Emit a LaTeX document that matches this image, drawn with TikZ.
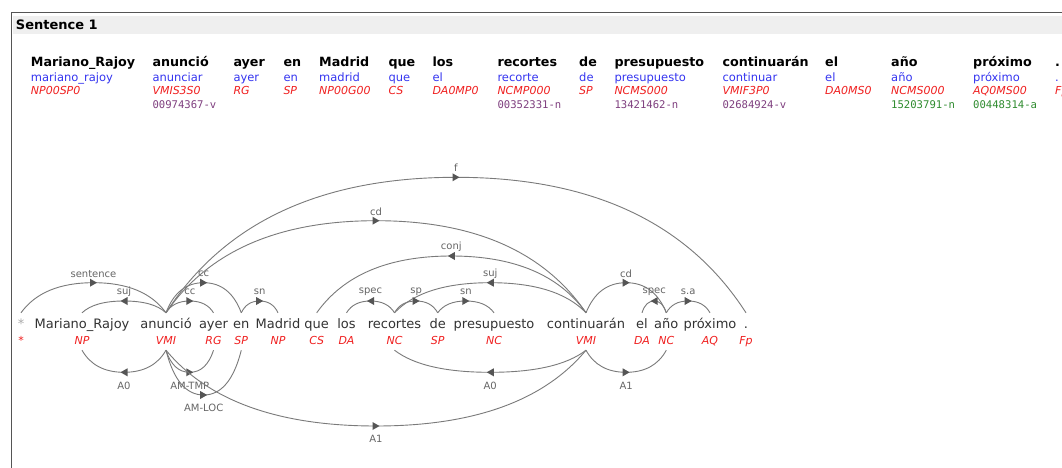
\documentclass[tikz,border=0pt]{standalone}
\usepackage{fontspec}
\setmainfont{DejaVu Sans}
\setmonofont{DejaVu Sans Mono}
\usetikzlibrary{calc,arrows.meta,decorations.markings}

\definecolor{framegray}{HTML}{555555}
\definecolor{bandgray}{HTML}{EFEFEF}
\definecolor{lemmablue}{HTML}{3535F0}
\definecolor{tagred}{HTML}{F02020}
\definecolor{synpurple}{HTML}{7F3F7F}
\definecolor{syngreen}{HTML}{2E8B2E}
\definecolor{wordgray}{HTML}{333333}
\definecolor{arcgray}{HTML}{7A7A7A}
\definecolor{tipgray}{HTML}{555555}
\definecolor{lblgray}{HTML}{666666}
\definecolor{rootgray}{HTML}{AAAAAA}

\tikzset{
  header/.style={anchor=base west, inner sep=0pt, font=\fontsize{13}{15}\selectfont\bfseries, text=black},
  tokword/.style={anchor=base west, inner sep=0pt, font=\fontsize{12.7}{15}\selectfont\bfseries, text=black},
  toklemma/.style={anchor=base west, inner sep=0pt, font=\fontsize{11.5}{14}\selectfont, text=lemmablue},
  toktag/.style={anchor=base west, inner sep=0pt, font=\fontsize{11}{13}\selectfont\itshape, text=tagred},
  toksyn/.style={anchor=base west, inner sep=0pt, font=\fontsize{10.6}{13}\selectfont\ttfamily},
  treeword/.style={anchor=base, inner sep=0pt, text height=15pt, text depth=0pt,
    font=\fontsize{13}{15}\selectfont, text=wordgray},
  treetag/.style={anchor=base, inner sep=0pt, text height=8pt, text depth=6pt,
    font=\fontsize{11}{13}\selectfont\itshape, text=tagred},
  arcline/.style={draw=arcgray, line width=0.9pt, postaction={decorate},
    decoration={markings, mark=at position 0.5 with
      {\fill[tipgray] (3.5pt,0pt) -- (-3.5pt,4pt) -- (-3.5pt,-4pt) -- cycle;}}},
  arclabel/.style={inner sep=0pt, font=\fontsize{10}{12}\selectfont, text=lblgray},
}

% labelled arc from a head to its dependent, peaking half way between them
% #1 name, #2 head anchor, #3 dependent anchor, #4 peak y, #5 label, #6 label offset
\newcommand\deparc[6]{%
  \coordinate (#1m) at ($(#2)!0.5!(#3)$);
  \coordinate (#1y) at (0,#4);
  \coordinate (#1p) at (#1m |- #1y);
  \coordinate (#1a0) at ($(#2)!0.3!(#1m)$);
  \coordinate (#1a) at (#1a0 |- #1p);
  \coordinate (#1b0) at ($(#3)!0.3!(#1m)$);
  \coordinate (#1b) at (#1b0 |- #1p);
  \draw[arcline] (#2) .. controls ($(#2)!2/3!(#1a)$) and ($(#1p)!2/3!(#1a)$) .. (#1p)
    .. controls ($(#1p)!2/3!(#1b)$) and ($(#3)!2/3!(#1b)$) .. (#3);
  \node[arclabel] (#1) at ($(#1p)+(0,#6)$) {#5};
}

\begin{document}
\begin{tikzpicture}[x=1pt,y=-1pt]
\fill[white] (0,0) rectangle (1062,468);
\clip (0,0) rectangle (1062,468);

% panel frame and title band
\fill[bandgray] (13,16) rectangle (1070,34);
\draw[framegray, line width=1pt] (11,472) -- (11,13) -- (1070,13);
\node[header] (title) at (15.7,29.3) {Sentence 1};

% token table: form, lemma, tag
\foreach \x/\w/\l/\t [count=\n] in {
  30.7/Mariano\_Rajoy/mariano\_rajoy/NP00SP0,
  152.3/anunció/anunciar/VMIS3S0,
  233.3/ayer/ayer/RG,
  283.3/en/en/SP,
  319/Madrid/madrid/NP00G00,
  388.3/que/que/CS,
  432.3/los/el/DA0MP0,
  497.3/recortes/recorte/NCMP000,
  579/de/de/SP,
  614.3/presupuesto/presupuesto/NCMS000,
  722.3/continuarán/continuar/VMIF3P0,
  825/el/el/DA0MS0,
  891/año/año/NCMS000,
  973/próximo/próximo/AQ0MS00,
  1055/././Fp}
{
  \node[tokword] (cw\n) at (\x,67) {\w};
  \node[toklemma] (cl\n) at (\x,81.5) {\l};
  \node[toktag] (ct\n) at (\x,95) {\t};
}
% synset row
\foreach \x/\s/\c [count=\n] in {
  152.3/00974367-v/synpurple,
  497.3/00352331-n/synpurple,
  614.3/13421462-n/synpurple,
  722.3/02684924-v/synpurple,
  891/15203791-n/syngreen,
  973/00448314-a/syngreen}
{
  \node[toksyn, text=\c] (cs\n) at (\x,108.5) {\s};
}

% sentence line with tags below
\node[treeword, text=rootgray] (t0) at (21,328) {*};
\node[treetag] (g0) at (21,344) {*};
\foreach \x/\w/\t [count=\n] in {
  82/Mariano\_Rajoy/NP,
  166/anunció/VMI,
  213.5/ayer/RG,
  241.3/en/SP,
  278/Madrid/NP,
  316.7/que/CS,
  346.5/los/DA,
  394.5/recortes/NC,
  437.7/de/SP,
  494/presupuesto/NC,
  586/continuarán/VMI,
  642/el/DA,
  666.3/año/NC,
  710/próximo/AQ,
  746/./Fp}
{
  \node[treeword] (t\n) at (\x,328) {\w};
  \node[treetag] (g\n) at (\x,344) {\t};
}

% syntactic dependencies above the words
\deparc{d1}{t0.north}{t2.north}{282.7}{sentence}{-9}
\deparc{d2}{t2.north}{t1.north}{301}{suj}{-9}
\deparc{d3}{t2.north}{t3.north}{301}{cc}{-9}
\deparc{d4}{t2.north}{t4.north}{282.7}{cc}{-9}
\deparc{d5}{t4.north}{t5.north}{301}{sn}{-9}
\deparc{d6}{t2.north}{t15.north}{177.3}{f}{-10}
\deparc{d7}{t2.north}{t11.north}{220.7}{cd}{-9}
\deparc{d8}{t11.north}{t6.north}{256}{conj}{-9}
\deparc{d9}{t11.north}{t8.north}{282.7}{suj}{-9}
\deparc{d10}{t8.north}{t7.north}{301}{spec}{-9}
\deparc{d11}{t8.north}{t9.north}{301}{sp}{-9}
\deparc{d12}{t9.north}{t10.north}{301}{sn}{-9}
\deparc{d13}{t11.north}{t13.north}{282.7}{cd}{-9}
\deparc{d14}{t13.north}{t12.north}{301}{spec}{-9}
\deparc{d15}{t13.north}{t14.north}{301}{s.a}{-9}

% semantic roles below the tags
\deparc{r1}{g2.south}{g1.south}{372.3}{A0}{13.4}
\deparc{r2}{g2.south}{g3.south}{372.3}{AM-TMP}{13.4}
\deparc{r3}{g2.south}{g4.south}{395}{AM-LOC}{13.3}
\deparc{r4}{g2.south}{g11.south}{426}{A1}{13}
\deparc{r5}{g11.south}{g8.south}{372.3}{A0}{13.4}
\deparc{r6}{g11.south}{g13.south}{372.3}{A1}{13.4}
\end{tikzpicture}
\end{document}
